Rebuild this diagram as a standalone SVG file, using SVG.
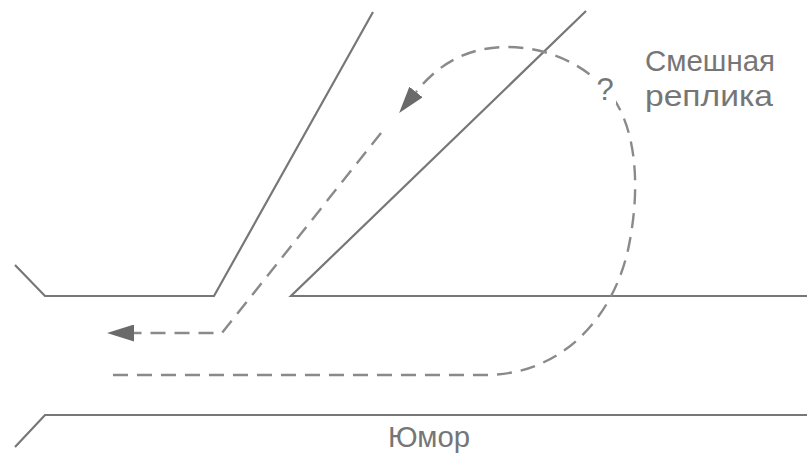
<svg xmlns="http://www.w3.org/2000/svg" width="807" height="457" viewBox="0 0 807 457">
<style>
.wall{fill:none;stroke:#777;stroke-width:2.2;stroke-linejoin:miter}
.dash{fill:none;stroke:#8a8a8a;stroke-width:2.4;stroke-dasharray:15 9}
.lbl{font-family:"Liberation Sans","Open Sans",sans-serif;fill:#767676}
</style>
<defs>
<marker id="arr" viewBox="0 0 27 17" refX="0" refY="8.5" markerWidth="27" markerHeight="17" markerUnits="userSpaceOnUse" orient="auto">
<path d="M0,0 L27,8.5 L0,17 z" fill="#6a6a6a"/>
</marker>
</defs>
<g id="streets">
<polyline class="wall" points="15,265 45,296 214,296 373,12"/>
<polyline class="wall" points="586,11 291,296 807,296"/>
<polyline class="wall" points="15,447 45,415 807,415"/>
</g>
<g id="connectors">
<path class="dash" d="M381,133 L222,333 L134,333" marker-end="url(#arr)"/>
<path class="dash" d="M113,375 H485 C560,375 612,320 628,250 C642,185 636,120 605,88 C580,62 545,47 507,47 C470,47 440,62 416,92" marker-end="url(#arr)"/>
</g>
<g id="label-joke">
<text class="lbl" x="645" y="71" font-size="30" textLength="130" lengthAdjust="spacingAndGlyphs">Смешная</text>
<text class="lbl" x="645" y="106" font-size="30" textLength="128" lengthAdjust="spacingAndGlyphs">реплика</text>
</g>
<g id="label-question">
<rect x="594" y="74" width="22" height="30" fill="#fff"/>
<text class="lbl" x="605" y="100" font-size="31" text-anchor="middle">?</text>
</g>
<g id="label-humor">
<text class="lbl" x="388" y="447" font-size="30" textLength="82" lengthAdjust="spacingAndGlyphs">Юмор</text>
</g>
</svg>
